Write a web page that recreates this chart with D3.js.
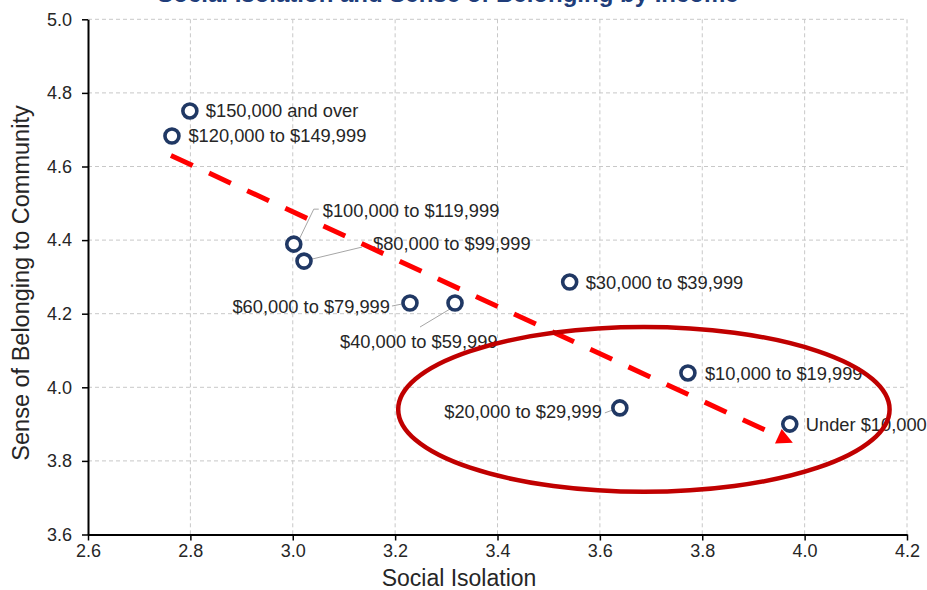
<!DOCTYPE html>
<html><head><meta charset="utf-8">
<script src="https://cdn.jsdelivr.net/npm/d3@7"></script>
<style>
body{margin:0;background:#fff}
svg{display:block;font-family:Arial,"Liberation Sans",sans-serif}
</style>
</head><body>
<svg id="c" width="927" height="590"></svg>
<script>
// ---- data ----
const categories = ["$150,000 and over","$120,000 to $149,999","$100,000 to $119,999","$80,000 to $99,999",
  "$60,000 to $79,999","$40,000 to $59,999","$30,000 to $39,999","$20,000 to $29,999",
  "$10,000 to $19,999","Under $10,000"];
const socialIsolation = [2.799, 2.764, 3.002, 3.022, 3.229, 3.317, 3.541, 3.639, 3.772, 3.971];
const belonging       = [4.751, 4.683, 4.389, 4.343, 4.229, 4.229, 4.286, 3.944, 4.039, 3.900];
const xTicks = [2.6, 2.8, 3.0, 3.2, 3.4, 3.6, 3.8, 4.0, 4.2];
const yTicks = [3.6, 3.8, 4.0, 4.2, 4.4, 4.6, 4.8, 5.0];
const trendX = [2.762, 3.977];
const trendY = [4.630, 3.849];
const ellipseCenter = [3.686, 3.940];
const ellipseRadii = [0.480, 0.224];
const titleText = "Social Isolation and Sense of Belonging by Income";
const xTitle = "Social Isolation";
const yTitle = "Sense of Belonging to Community";

// ---- layout (pixel offsets for labels, relative to the point) ----
const labelLayout = [
  {dx:16, dy:0, anchor:"start"},
  {dx:16.5, dy:0, anchor:"start"},
  {dx:29, dy:-34, anchor:"start", leader:[[6,-6],[20,-35],[25,-35]]},
  {dx:69, dy:-17, anchor:"start", leader:[[8,-2],[58,-14]]},
  {dx:-20, dy:4, anchor:"end", leader:[[-8,1],[-18,3]]},
  {dx:-115, dy:39, anchor:"start", leader:[[-5,6],[-35,24]]},
  {dx:16, dy:1, anchor:"start"},
  {dx:-18, dy:4, anchor:"end", leader:[[-7,2],[-15,5]]},
  {dx:17, dy:1, anchor:"start"},
  {dx:16, dy:0.5, anchor:"start"}
];

const svg = d3.select("#c");
const x = d3.scaleLinear().domain([2.6, 4.2]).range([88, 907]);
const y = d3.scaleLinear().domain([3.6, 5.0]).range([534.5, 19.3]);

// title (mostly cut off at top, as in the reference)
svg.append("text").attr("x", 448).attr("y", 1.5).attr("text-anchor","middle")
  .attr("font-size", 24).attr("font-weight","bold").attr("fill","#203d7a").text(titleText);

// grid
const grid = svg.append("g");
grid.selectAll("line.v").data(xTicks.slice(1)).join("line")
  .attr("x1", d=>x(d)).attr("x2", d=>x(d)).attr("y1", y(5.0)).attr("y2", y(3.6))
  .attr("stroke","#c8c8c8").attr("stroke-width",1).attr("stroke-dasharray","4,3");
grid.selectAll("line.h").data(yTicks.slice(1)).join("line")
  .attr("x1", x(2.6)).attr("x2", x(4.2)).attr("y1", d=>y(d)).attr("y2", d=>y(d))
  .attr("stroke","#c8c8c8").attr("stroke-width",1).attr("stroke-dasharray","4,3");

// axes
const xAxis = svg.append("g").attr("transform", `translate(0,${y(3.6)})`)
  .call(d3.axisBottom(x).tickValues(xTicks).tickFormat(d3.format(".1f")).tickSize(6).tickSizeOuter(0).tickPadding(4));
const yAxis = svg.append("g").attr("transform", `translate(${x(2.6)},0)`)
  .call(d3.axisLeft(y).tickValues(yTicks).tickFormat(d3.format(".1f")).tickSize(6).tickSizeOuter(0).tickPadding(10));
[xAxis, yAxis].forEach(g => {
  g.select(".domain").attr("stroke","#000").attr("stroke-width",2);
  g.selectAll(".tick line").attr("stroke","#000").attr("stroke-width",1.5);
  g.selectAll(".tick text").attr("font-size",18).attr("fill","#262626")
    .attr("font-family","Arial, 'Liberation Sans', sans-serif");
});

// axis titles
svg.append("text").attr("x", 459).attr("y", 586).attr("text-anchor","middle")
  .attr("font-size", 23).attr("fill","#262626").text(xTitle);
svg.append("text").attr("transform","translate(29,283) rotate(-90)").attr("text-anchor","middle")
  .attr("font-size", 23.5).attr("fill","#262626").text(yTitle);

const pts = categories.map((c,i)=>({c, px:x(socialIsolation[i]), py:y(belonging[i]), lay:labelLayout[i]}));

// leader lines
svg.append("g").selectAll("polyline").data(pts.filter(p=>p.lay.leader)).join("polyline")
  .attr("points", p => p.lay.leader.map(([a,b]) => `${p.px+a},${p.py+b}`).join(" "))
  .attr("fill","none").attr("stroke","#a6a6a6").attr("stroke-width",1);

// labels
svg.append("g").selectAll("text").data(pts).join("text")
  .attr("x", p=>p.px+p.lay.dx).attr("y", p=>p.py+p.lay.dy).attr("dy","0.35em")
  .attr("text-anchor", p=>p.lay.anchor).attr("font-size",18.3).attr("fill","#262626")
  .text(p=>p.c);

// markers
svg.append("g").selectAll("circle").data(pts).join("circle")
  .attr("cx", p=>p.px).attr("cy", p=>p.py).attr("r", 7)
  .attr("fill","#fff").attr("stroke","#203864").attr("stroke-width",3.6);

// trend line with arrowhead
const p0 = [x(trendX[0]), y(trendY[0])], p1 = [x(trendX[1]), y(trendY[1])];
const L = Math.hypot(p1[0]-p0[0], p1[1]-p0[1]);
const u = [(p1[0]-p0[0])/L, (p1[1]-p0[1])/L], n = [-u[1], u[0]];
const aLen = 16, aW = 8;
svg.append("line").attr("x1",p0[0]).attr("y1",p0[1])
  .attr("x2",p1[0]-u[0]*(aLen-2)).attr("y2",p1[1]-u[1]*(aLen-2))
  .attr("stroke","#ff0000").attr("stroke-width",5).attr("stroke-dasharray","24,18");
const b = [p1[0]-u[0]*aLen, p1[1]-u[1]*aLen];
svg.append("path").attr("d", `M${p1[0]},${p1[1]}L${b[0]+n[0]*aW},${b[1]+n[1]*aW}L${b[0]-n[0]*aW},${b[1]-n[1]*aW}Z`)
  .attr("fill","#ff0000");

// highlight ellipse
svg.append("ellipse").attr("cx", x(ellipseCenter[0])).attr("cy", y(ellipseCenter[1]))
  .attr("rx", x(ellipseCenter[0]+ellipseRadii[0]) - x(ellipseCenter[0]))
  .attr("ry", y(ellipseCenter[1]-ellipseRadii[1]) - y(ellipseCenter[1]))
  .attr("fill","none").attr("stroke","#c00000").attr("stroke-width",4.5);
</script>
</body></html>
